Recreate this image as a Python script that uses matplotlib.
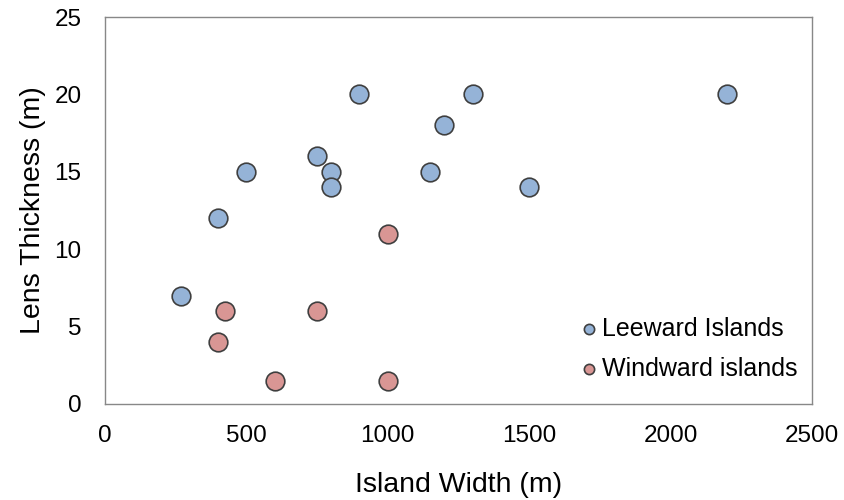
import matplotlib
matplotlib.use("Agg")
from matplotlib import pyplot as plt

plt.rcParams['font.family'] = ['Liberation Sans', 'DejaVu Sans']

# island width (m) vs lens thickness (m)
leeward_width = [270, 400, 500, 750, 800, 800, 900, 1150, 1200, 1300, 1500, 2200]
leeward_thick = [7, 12, 15, 16, 15, 14, 20, 15, 18, 20, 14, 20]
windward_width = [425, 400, 600, 750, 1000, 1000]
windward_thick = [6, 4, 1.5, 6, 11, 1.5]

fig = plt.figure(figsize=(8.44, 5.0), dpi=100)
ax = fig.add_axes([0.1244, 0.192, 0.8376, 0.774])

ax.scatter(leeward_width, leeward_thick, s=180, color='#95B3D7',
           edgecolor='#3f3f3f', linewidth=1.2, label='Leeward Islands', zorder=3)
ax.scatter(windward_width, windward_thick, s=180, color='#D99694',
           edgecolor='#3f3f3f', linewidth=1.2, label='Windward islands', zorder=3)

ax.set_xlim(0, 2500)
ax.set_ylim(0, 25)
ax.set_xticks(range(0, 2501, 500))
ax.set_yticks(range(0, 26, 5))
ax.tick_params(axis='both', length=0, labelsize=17.5)
ax.tick_params(axis='x', pad=15)
ax.tick_params(axis='y', pad=17)
for sp in ax.spines.values():
    sp.set_color('#888888')
    sp.set_linewidth(1)

ax.set_xlabel('Island Width (m)', fontsize=20.5, labelpad=18)
ax.set_ylabel('Lens Thickness (m)', fontsize=20.5, labelpad=6)

ax.legend(loc='lower right', bbox_to_anchor=(0.98, 0.06), frameon=False,
          fontsize=18, markerscale=0.55, handletextpad=0.05,
          labelspacing=0.65, borderpad=0, borderaxespad=0, handlelength=1.0)

fig.savefig('out.png', dpi=100)
